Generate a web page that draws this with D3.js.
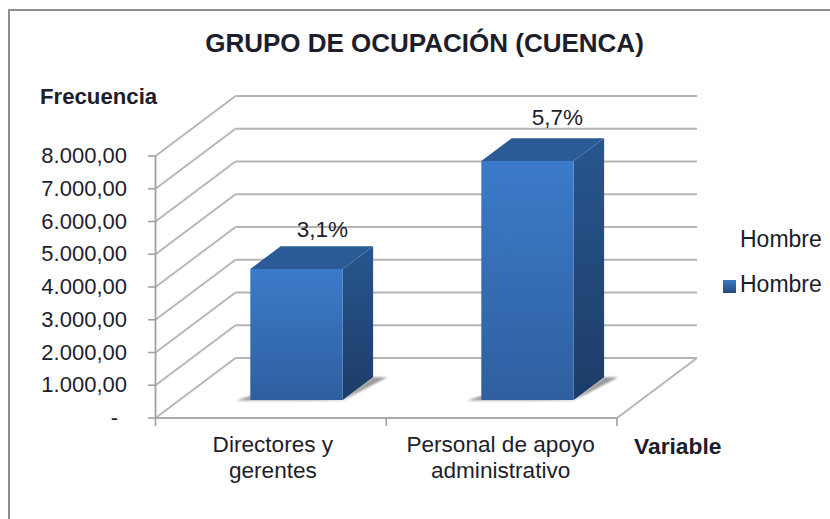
<!DOCTYPE html>
<html><head><meta charset="utf-8">
<script src="https://cdn.jsdelivr.net/npm/d3@7"></script>
<style>html,body{margin:0;padding:0;background:#fff}svg{display:block}text{font-family:"Liberation Sans",Arial,sans-serif;fill:#1d1d2b}</style>
</head><body><svg id="c" width="830" height="519"></svg>
<script>
const titleText = "GRUPO DE OCUPACIÓN (CUENCA)";
const categories = [["Directores y","gerentes"],["Personal de apoyo","administrativo"]];
const values = [4000, 7300];
const pctLabels = ["3,1%","5,7%"];
const yTicks = [0,1000,2000,3000,4000,5000,6000,7000,8000];
const yTickLabels = ["-","1.000,00","2.000,00","3.000,00","4.000,00","5.000,00","6.000,00","7.000,00","8.000,00"];
const seriesName = "Hombre";

const svg = d3.select("#c");
const y = d3.scaleLinear().domain([0,8000]).range([418,156]);
const x = d3.scaleBand().domain(d3.range(categories.length)).range([157,619]).paddingInner(0.6).paddingOuter(0.3);
const tickX = d3.scaleLinear().domain([0,2]).range([155.5,617]);
const DX=80, DY=60;
const px=(xv,d)=>xv+DX*d, py=(yv,d)=>yv-DY*d;
const D0=0.3, D1=0.68;

const defs=svg.append("defs");
const g1=defs.append("linearGradient").attr("id","front").attr("x1",0).attr("y1",0).attr("x2",0).attr("y2",1);
g1.append("stop").attr("offset",0).attr("stop-color","#3b7bca");
g1.append("stop").attr("offset",1).attr("stop-color","#2f5f9f");
const g2=defs.append("linearGradient").attr("id","side").attr("x1",0).attr("y1",0).attr("x2",0).attr("y2",1);
g2.append("stop").attr("offset",0).attr("stop-color","#28568d");
g2.append("stop").attr("offset",1).attr("stop-color","#1d3c68");
const g3=defs.append("linearGradient").attr("id","leg").attr("x1",0).attr("y1",0).attr("x2",0).attr("y2",1);
g3.append("stop").attr("offset",0).attr("stop-color","#3b78c2");
g3.append("stop").attr("offset",1).attr("stop-color","#24497c");
const bl=defs.append("filter").attr("id","blur").attr("x","-20%").attr("y","-50%").attr("width","140%").attr("height","200%");
bl.append("feGaussianBlur").attr("stdDeviation",1.2);

const line=(a,b,c,d,col="#b4b4b4",w=1.8)=>svg.append("line").attr("x1",a).attr("y1",b).attr("x2",c).attr("y2",d).attr("stroke",col).attr("stroke-width",w);

// frame: only the top and left edges are visible
line(8,10,830,10,"#8f8f8f",2);
line(9,9,9,519,"#8f8f8f",2);

const X0=tickX(0), X2=tickX(2);
yTicks.forEach(t=>{
  line(px(X0,1),py(y(t),1),px(X2,1),py(y(t),1));
  line(X0,y(t),px(X0,1),py(y(t),1));
});
line(X2,418,px(X2,1),py(418,1));
line(X0,418,X2,418,"#ababab",2.2);
line(X0,156,X0,418,"#a0a0a0",1.8);
yTicks.forEach(t=>line(148,y(t),X0,y(t),"#a0a0a0",1.6));
[0,1,2].forEach(i=>line(tickX(i),418,tickX(i),426,"#a0a0a0",1.6));

const pts=a=>a.map(p=>p.join(",")).join(" ");
values.forEach((v,i)=>{
  const l=x(i), r=l+x.bandwidth(), b=y(0), t=y(v);
  svg.append("polygon").attr("points",pts([[px(l,D0)-14,py(b,D0)+.5],[px(l,D0),py(b,D0)-4],[px(r,D0),py(b,D0)],[px(r,D1),py(b,D1)],[px(r,D1)+14,py(b,D1)],[px(r,D0),py(b,D0)+.5]]))
     .attr("fill","#808080").attr("opacity",.8).attr("filter","url(#blur)");
  svg.append("polygon").attr("points",pts([[px(l,D0),py(t,D0)],[px(r,D0),py(t,D0)],[px(r,D1),py(t,D1)],[px(l,D1),py(t,D1)]])).attr("fill","#2b5b97");
  svg.append("polygon").attr("points",pts([[px(r,D0),py(t,D0)],[px(r,D1),py(t,D1)],[px(r,D1),py(b,D1)],[px(r,D0),py(b,D0)]])).attr("fill","url(#side)");
  svg.append("rect").attr("x",px(l,D0)).attr("y",py(t,D0)).attr("width",x.bandwidth()).attr("height",b-t).attr("fill","url(#front)");
  svg.append("text").attr("x",px(l,D0)+x.bandwidth()/2+(i?30:26)).attr("y",py(t,D0)-(i?36:32)).attr("text-anchor","middle").attr("font-size",22.5).text(pctLabels[i]);
  categories[i].forEach((s,k)=>svg.append("text").attr("x",tickX(i)+(tickX(i+1)-tickX(i))/2+(i?-1:2)).attr("y",452+k*26).attr("text-anchor","middle").attr("font-size",22.6).text(s));
});

yTicks.forEach((t,i)=>svg.append("text").attr("x",i==0?118:127).attr("y",y(t)+7).attr("text-anchor","end").attr("font-size",22).text(yTickLabels[i]));

svg.append("text").attr("x",424.5).attr("y",52).attr("text-anchor","middle").attr("font-size",26).attr("font-weight",700).text(titleText);
svg.append("text").attr("x",40).attr("y",104).attr("font-size",22.2).attr("font-weight",700).text("Frecuencia");
svg.append("text").attr("x",634).attr("y",454).attr("font-size",22.8).attr("font-weight",700).text("Variable");
svg.append("text").attr("x",740).attr("y",246.5).attr("font-size",23).text(seriesName);
svg.append("rect").attr("x",723).attr("y",280).attr("width",13).attr("height",13).attr("fill","url(#leg)");
svg.append("text").attr("x",740).attr("y",292).attr("font-size",23).text(seriesName);
</script></body></html>
